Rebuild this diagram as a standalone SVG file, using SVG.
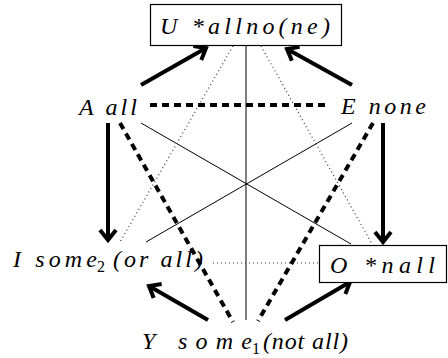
<svg xmlns="http://www.w3.org/2000/svg" width="448" height="358" viewBox="0 0 448 358">
<defs>
<marker id="ah" markerUnits="userSpaceOnUse" markerWidth="30" markerHeight="30" viewBox="-15 -15 30 30" refX="0" refY="0" orient="auto">
<path d="M-10,-8 L0,0 L-10,8" stroke="#000" stroke-width="4" fill="none"/>
</marker>
</defs>
<g id="connectors" fill="none">
<line stroke="#555" stroke-width="1.5" x1="246" y1="46" x2="246" y2="320"/>
<g stroke="#000" stroke-width="1">
<line x1="141" y1="123" x2="351" y2="244"/>
<line x1="146" y1="242" x2="352" y2="123"/>
</g>
<g stroke="#333" stroke-width="1.2" stroke-dasharray="1 3">
<line x1="233" y1="46" x2="120" y2="242"/>
<line x1="261" y1="46" x2="372" y2="244"/>
<line x1="213" y1="263" x2="319" y2="263"/>
</g>
<g stroke="#000" stroke-width="4" stroke-dasharray="7 5">
<line x1="150" y1="105" x2="330" y2="105"/>
<line x1="120" y1="123" x2="233" y2="322"/>
<line x1="373" y1="123" x2="258" y2="321"/>
</g>
<g stroke="#000" stroke-width="4" marker-end="url(#ah)">
<line x1="141" y1="85" x2="206" y2="48"/>
<line x1="352" y1="85" x2="287" y2="49"/>
<line x1="108" y1="123" x2="108" y2="240"/>
<line x1="383" y1="123" x2="383" y2="242"/>
<line x1="208" y1="320" x2="149" y2="286"/>
<line x1="285" y1="320" x2="350" y2="282"/>
</g>
</g>
<g id="U">
<rect fill="#fff" stroke="#000" stroke-width="1.2" x="150.5" y="4.5" width="191" height="41"/>
<text x="160" y="34" font-family="Liberation Serif" font-style="italic" font-size="24" textLength="170" lengthAdjust="spacing">U *allno(ne)</text>
</g>
<g id="A">
<text x="79" y="115" font-family="Liberation Serif" font-style="italic" font-size="24" textLength="58" lengthAdjust="spacing">A all</text>
</g>
<g id="E">
<text x="341" y="114" font-family="Liberation Serif" font-style="italic" font-size="24" textLength="85" lengthAdjust="spacing">E none</text>
</g>
<g id="I">
<text x="13" y="267" font-family="Liberation Serif" font-style="italic" font-size="24" textLength="84" lengthAdjust="spacing">I some</text>
<text x="97" y="272" font-family="Liberation Serif" font-size="16">2</text>
<text x="113" y="267" font-family="Liberation Serif" font-style="italic" font-size="24" textLength="90" lengthAdjust="spacing">(or all)</text>
</g>
<g id="O">
<rect fill="#fff" stroke="#000" stroke-width="1.2" x="319.5" y="245.5" width="127" height="37"/>
<text x="330" y="273" font-family="Liberation Serif" font-style="italic" font-size="24" textLength="105" lengthAdjust="spacing">O *nall</text>
</g>
<g id="Y">
<text x="142" y="349" font-family="Liberation Serif" font-style="italic" font-size="24" textLength="110" lengthAdjust="spacing">Y some</text>
<text x="252" y="354" font-family="Liberation Serif" font-size="16">1</text>
<text x="263" y="349" font-family="Liberation Serif" font-style="italic" font-size="24" textLength="85" lengthAdjust="spacing">(not all)</text>
</g>
</svg>
